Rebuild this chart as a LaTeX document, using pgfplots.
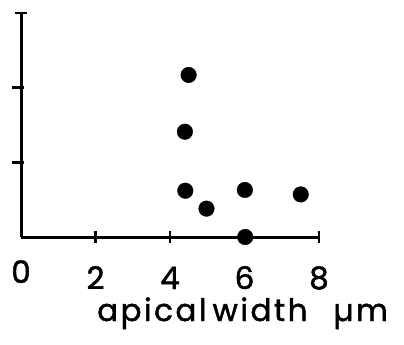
\documentclass[border=0pt]{standalone}
\usepackage{fontspec}
\setmainfont{Poppins}
\usepackage{pgfplots}
\pgfplotsset{compat=1.18}
\newcommand{\chartfont}{\fontsize{31}{36}\selectfont\addfontfeature{LetterSpace=5,FakeBold=1.5}}
\newcommand{\labelfont}{\fontsize{31}{36}\selectfont\addfontfeature{LetterSpace=8,FakeBold=1.5}}
\begin{document}
\begin{tikzpicture}
\useasboundingbox (-21pt,-108pt) rectangle (383pt,237pt);
\begin{axis}[
  at={(0,0)}, anchor=origin,
  scale only axis, width=298pt, height=224pt,
  xmin=0, xmax=8, ymin=0, ymax=3,
  axis x line=bottom, axis y line=left,
  axis line style={-, line width=3pt, line cap=butt},
  clip=false,
  xtick={2,4,6,8},
  extra x ticks={0},
  extra x tick style={major tick length=0pt},
  ytick={1,2},
  yticklabels={},
  tick align=center,
  major tick length=12pt,
  every tick/.style={black, line width=2.5pt},
  y tick style={xshift=-3pt},
  /pgf/number format/assume math mode=true,
  ticklabel style={font=\chartfont},
  label style={font=\labelfont},
  xticklabel style={anchor=base, inner sep=0pt, yshift=-46pt},
  xlabel={apical\kern6pt width\kern26pt µm},
  xlabel style={at={(axis description cs:0,0)}, anchor=base west, inner sep=0pt, xshift=76pt, yshift=-84pt},
]
\addplot[only marks, mark=*, mark size=7.8pt, black] table {
x y
4.50 2.17
4.40 1.41
4.41 0.62
4.98 0.38
6.01 0.63
7.51 0.57
6.02 0.00
};
\draw[line width=2.5pt] (rel axis cs:0,1) ++(-6pt,0) -- ++(12pt,0);
\end{axis}
\end{tikzpicture}
\end{document}
